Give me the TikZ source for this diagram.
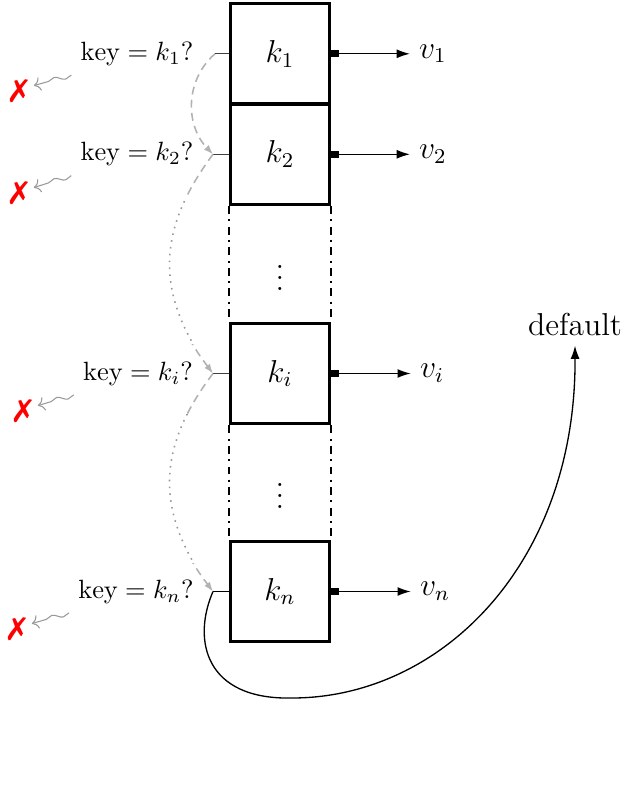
\documentclass[tikz,border=0pt]{standalone}
\usepackage{fontspec}
\usepackage{pifont}
\usetikzlibrary{arrows.meta,decorations.pathmorphing}
\begin{document}
\begin{tikzpicture}[x=0.3788pt,y=-0.3788pt,
  box/.style={draw, line width=1.3pt, minimum width=37.4pt, minimum height=37.97pt, inner sep=0pt, font=\large},
  lab/.style={font=\large},
  qlab/.style={font=\normalsize},
  stub/.style={draw=black!75, line width=0.5pt},
  val/.style={line width=0.5pt, {Square[length=3pt,width=2.8pt]}-{Latex[length=5pt,width=3.4pt]}},
  gdash/.style={draw=black!30, line width=0.6pt, dash pattern=on 3pt off 2pt},
  gdot/.style={draw=black!40, line width=0.6pt, dotted},
  gtip/.style={-{Latex[length=3.6pt,width=2.6pt]}, black!30},
  squig/.style={draw=black!40, line width=0.4pt, -{To[length=2.5pt]}, decorate,
    decoration={snake, amplitude=0.9pt, segment length=8pt, post length=2.5pt}},
  cross/.style={text=red, font=\large, inner sep=2pt},
  dd/.style={line width=0.8pt, dash dot}
]
\useasboundingbox (0,0) rectangle (634,790);

% boxes
\node[box] (b1) at (280,53.8) {$k_1$};
\node[box] (b2) at (280,154.3) {$k_2$};
\node[box] (bi) at (280,373.5) {$k_i$};
\node[box] (bn) at (280,591.5) {$k_n$};

% dash-dot continuations
\draw[dd] (b2.south west) -- (bi.north west);
\draw[dd] (b2.south east) -- (bi.north east);
\draw[dd] (bi.south west) -- (bn.north west);
\draw[dd] (bi.south east) -- (bn.north east);
\node[lab] (d1) at (280,270) {$\vdots$};
\node[lab] (d2) at (280,488) {$\vdots$};

% values
\node[lab] (v1) at (433,53.8) {$v_1$};
\node[lab] (v2) at (433,154.3) {$v_2$};
\node[lab] (vi) at (432,373.5) {$v_i$};
\node[lab] (vn) at (435,591.5) {$v_n$};
\draw[val] (b1.east) -- (v1.west);
\draw[val] (b2.east) -- (v2.west);
\draw[val] (bi.east) -- (vi.west |- bi.east);
\draw[val] (bn.east) -- (vn.west |- bn.east);

% stubs
\coordinate (s1) at (215,53.8);
\coordinate (s2) at (213,154.3);
\coordinate (si) at (213,373.5);
\coordinate (sn) at (213,591.5);
\draw[stub] (s1) -- (b1.west);
\draw[stub] (s2) -- (b2.west);
\draw[stub] (si) -- (bi.west);
\draw[stub,draw=black] (sn) -- (bn.west);

% questions
\node[qlab] (q1) at (137,53.8) {$\mathrm{key}=k_1$?};
\node[qlab] (q2) at (137,154.3) {$\mathrm{key}=k_2$?};
\node[qlab] (qi) at (138,373.5) {$\mathrm{key}=k_i$?};
\node[qlab] (qn) at (136,591.5) {$\mathrm{key}=k_n$?};

% crosses
\node[cross] (x1) at (19,91) {\ding{55}};
\node[cross] (x2) at (19,193) {\ding{55}};
\node[cross] (xi) at (23,411) {\ding{55}};
\node[cross] (xn) at (17,629) {\ding{55}};
\draw[squig] (q1.south west) -- (x1.20);
\draw[squig] (q2.south west) -- (x2.20);
\draw[squig] (qi.south west) -- (xi.20);
\draw[squig] (qn.south west) -- (xn.20);

% search path
\draw[gdash,gtip] (s1) .. controls (185,80) and (185,125) .. (s2);

\begin{scope}
  \clip (0,0) rectangle (634,198);
  \draw[gdash] (s2) .. controls (155,232) and (155,297) .. (si);
\end{scope}
\begin{scope}
  \clip (0,198) rectangle (634,345);
  \draw[gdot] (s2) .. controls (155,232) and (155,297) .. (si);
\end{scope}
\begin{scope}
  \clip (0,345) rectangle (634,380);
  \draw[gdash,gtip] (s2) .. controls (155,232) and (155,297) .. (si);
\end{scope}

\begin{scope}
  \clip (0,374) rectangle (634,415);
  \draw[gdash] (si) .. controls (155,450) and (155,515) .. (sn);
\end{scope}
\begin{scope}
  \clip (0,415) rectangle (634,563);
  \draw[gdot] (si) .. controls (155,450) and (155,515) .. (sn);
\end{scope}
\begin{scope}
  \clip (0,563) rectangle (634,598);
  \draw[gdash,gtip] (si) .. controls (155,450) and (155,515) .. (sn);
\end{scope}

% default
\node[lab] (def) at (575,325) {default};
\draw[line width=0.5pt, -{Latex[length=5pt,width=3.4pt]}]
  (sn) .. controls (192,640) and (205,700) .. (292,698)
       .. controls (440,698) and (576,565) .. (def.south);
\end{tikzpicture}
\end{document}
